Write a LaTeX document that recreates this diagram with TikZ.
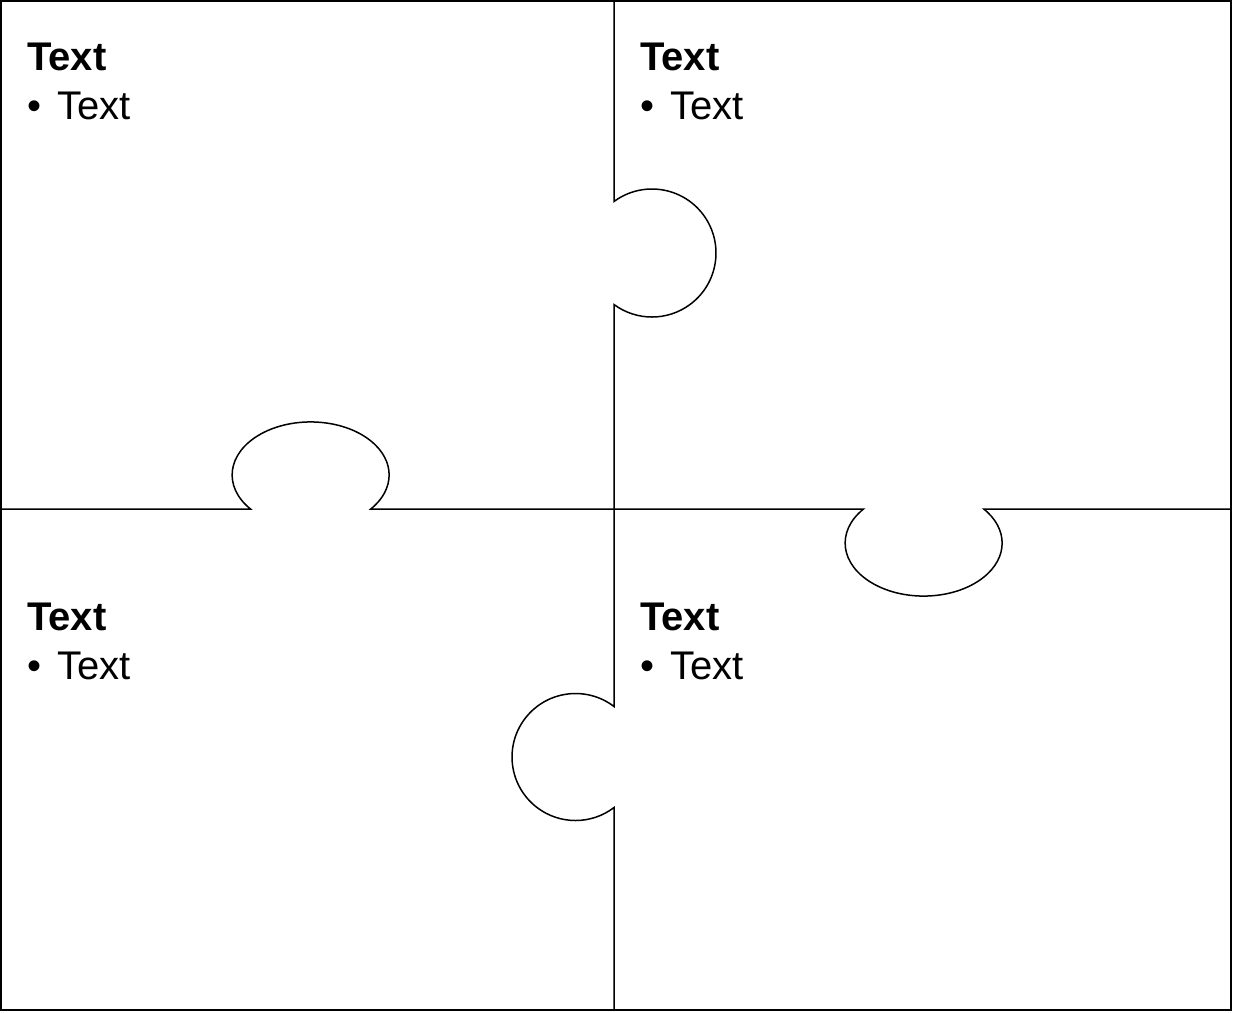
\documentclass[tikz,border=0pt]{standalone}
\usepackage{fontspec}
\setmainfont{Liberation Sans}

\begin{document}
\begin{tikzpicture}[x=1pt,y=-1pt,
    seam/.style={black, line width=1.5pt},
    title/.style={anchor=base west, inner sep=0pt, font=\fontsize{40}{48}\selectfont\bfseries},
    item/.style={anchor=base west, inner sep=0pt, font=\fontsize{40}{48}\selectfont}]
    \useasboundingbox (0,0) rectangle (1233,1012);

    % Rahmen
    \draw[seam] (1,1) rectangle (1231,1010);

    % waagrechte Naht mit zwei Nasen
    \draw[seam] (1,509) -- (250.5,509)
        arc[start angle=140, end angle=400, x radius=78.5, y radius=53]
        -- (863.5,509)
        arc[start angle=220, end angle=-40, x radius=78.5, y radius=53]
        -- (1231,509);

    % senkrechte Naht mit zwei Nasen
    \draw[seam] (614,1) -- (614,201.5)
        arc[start angle=233.6, end angle=486.4, radius=64]
        -- (614,706.5)
        arc[start angle=307.3, end angle=52.7, radius=63.5]
        -- (614,1010);

    % Texte der vier Teile
    \foreach \name/\px/\py in {tl/27/70, tr/640/70, bl/27/630, br/640/630} {
        \node[title] (\name title) at (\px,\py) {Text};
        \node[item] (\name item) at (\px,\py+49) {\textbullet\hspace{16pt}Text};
    }
\end{tikzpicture}
\end{document}
